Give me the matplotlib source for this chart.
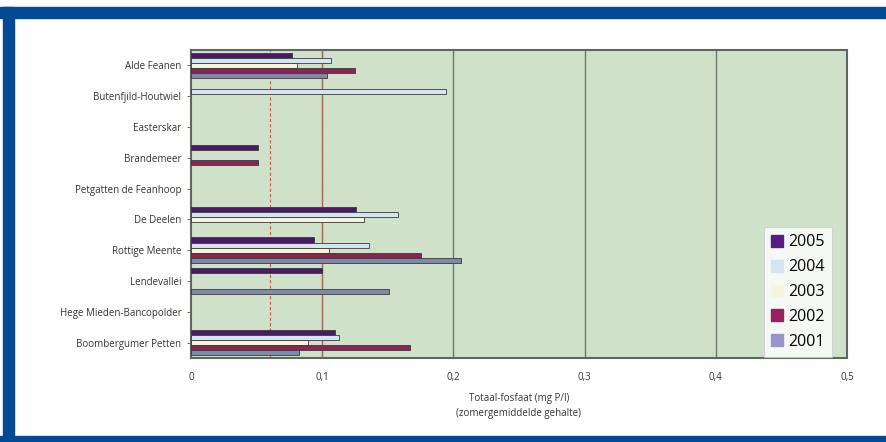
import numpy as np
import matplotlib
matplotlib.use("Agg")
import matplotlib.pyplot as plt
from matplotlib.patches import Rectangle

plt.rcParams['font.family'] = ['Open Sans', 'DejaVu Sans']

gebieden = ["Alde Feanen", "Butenfjild-Houtwiel", "Easterskar", "Brandemeer",
            "Petgatten de Feanhoop", "De Deelen", "Rottige Meente", "Lendevallei",
            "Hege Mieden-Bancopolder", "Boombergumer Petten"]
jaren = ["2005", "2004", "2003", "2002", "2001"]

# totaal-fosfaat per gebied, nan = geen meting
fosfaat_2005 = [0.077, np.nan, np.nan, 0.051, np.nan, 0.126, 0.094, 0.100, np.nan, 0.110]
fosfaat_2004 = [0.107, 0.194, np.nan, np.nan, np.nan, 0.158, 0.136, np.nan, np.nan, 0.113]
fosfaat_2003 = [0.081, np.nan, np.nan, np.nan, np.nan, 0.132, 0.105, np.nan, np.nan, 0.089]
fosfaat_2002 = [0.125, np.nan, np.nan, 0.051, np.nan, np.nan, 0.175, np.nan, np.nan, 0.167]
fosfaat_2001 = [0.104, np.nan, np.nan, np.nan, np.nan, np.nan, 0.206, 0.151, np.nan, 0.082]

normen = [0.06, 0.1]
xticks = [0, 0.1, 0.2, 0.3, 0.4, 0.5]
xticklabels = ["0", "0,1", "0,2", "0,3", "0,4", "0,5"]

kleuren = ["#4a1a66", "#d4e4f0", "#f6f4da", "#8a2452", "#7f8aa8"]
legend_kleuren = ["#5a1a8a", "#d4e4f0", "#f6f4da", "#9a2060", "#9b93cc"]

fig = plt.figure(figsize=(8.86, 4.42), dpi=100)
fig.patch.set_facecolor("white")

# blauwe rand
W, H = 886, 442
blauw = "#034a94"
fig.patches.append(Rectangle((0, 1 - 18 / H), 1, 11 / H, transform=fig.transFigure,
                             color=blauw, zorder=0))
fig.patches.append(Rectangle((3 / W, 0), 11 / W, 1 - 7 / H, transform=fig.transFigure,
                             color=blauw, zorder=0))
fig.patches.append(Rectangle((0, 0), 1, 6 / H, transform=fig.transFigure,
                             color=blauw, zorder=0))

ax = fig.add_axes([191 / W, 1 - 358 / H, (847 - 191) / W, (358 - 50) / H])
ax.set_facecolor("#cfe2c9")

reeksen = [fosfaat_2005, fosfaat_2004, fosfaat_2003, fosfaat_2002, fosfaat_2001]
y = np.arange(len(gebieden))
h = 0.165
for j, (waarden, kleur) in enumerate(zip(reeksen, kleuren)):
    ax.barh(y - 2 * h + j * h, waarden, height=h, color=kleur,
            edgecolor="#3a3a3a", linewidth=0.6, zorder=3)

for x in [0.1, 0.2, 0.3, 0.4]:
    ax.axvline(x, color="#6f786f", linewidth=1.0, zorder=1)
for x in normen:
    ax.axvline(x, color="#cc6050", linewidth=0.9, linestyle=(0, (2.5, 1.8)), zorder=2)

ax.set_xlim(0, 0.5)
ax.set_ylim(len(gebieden) - 0.5, -0.5)
ax.set_yticks(y)
ax.set_yticklabels(gebieden, fontsize=7, color="#333333")
ax.set_xticks(xticks)
ax.set_xticklabels(xticklabels, fontsize=7, color="#333333")
ax.tick_params(axis="y", length=3, width=0.6, pad=4, color="#555555")
ax.tick_params(axis="x", length=0, pad=10)
for s in ax.spines.values():
    s.set_color("#5f665f")
    s.set_linewidth(1.5)

ax.set_xlabel("Totaal-fosfaat (mg P/l)\n(zomergemiddelde gehalte)", fontsize=7,
              color="#333333", labelpad=7, linespacing=1.6)

handles = [Rectangle((0, 0), 1, 1, color=c) for c in legend_kleuren]
leg = ax.legend(handles, jaren, loc="lower right", bbox_to_anchor=(0.977, 0.004),
                fontsize=11.5, frameon=True, fancybox=False, handlelength=0.75,
                handleheight=0.75, handletextpad=0.3, labelspacing=0.55,
                borderpad=0.45, borderaxespad=0)
leg.get_frame().set_edgecolor("#cccccc")
leg.get_frame().set_linewidth(0.8)
leg.set_zorder(5)

fig.savefig("out.png", dpi=100)
